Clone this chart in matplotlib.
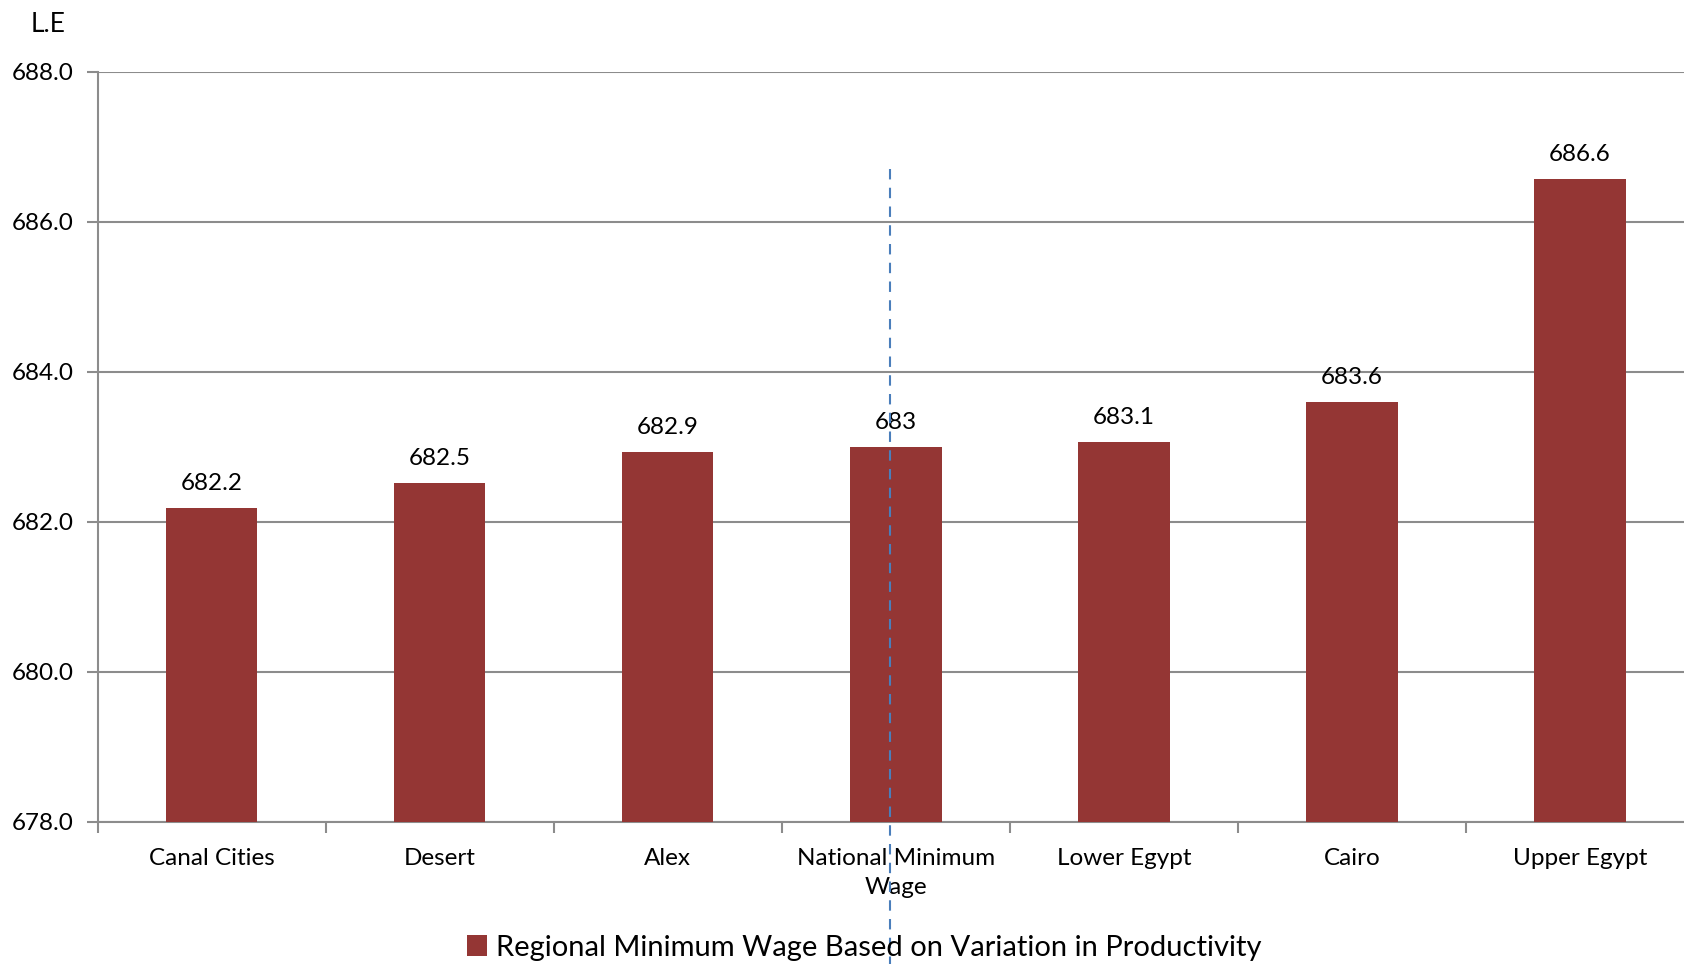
import matplotlib.pyplot as plt
from matplotlib.patches import Patch

categories = ["Canal Cities", "Desert", "Alex", "National Minimum\nWage",
              "Lower Egypt", "Cairo", "Upper Egypt"]
values = [682.18, 682.52, 682.93, 683.0, 683.07, 683.6, 686.57]
value_labels = ["682.2", "682.5", "682.9", "683", "683.1", "683.6", "686.6"]
y_ticks = [678.0, 680.0, 682.0, 684.0, 686.0, 688.0]
series_name = "Regional Minimum Wage Based on Variation in Productivity"

bar_color = "#943634"
grid_color = "#8c8c8c"

plt.rcParams['font.family'] = ['Lato', 'DejaVu Sans']

fig = plt.figure(figsize=(16.84, 9.66), dpi=100)
ax = fig.add_axes([0.058, 0.1495, 0.948, 0.776])

x = list(range(len(categories)))
ax.bar(x, [v - y_ticks[0] for v in values], bottom=y_ticks[0], width=0.4,
       color=bar_color, zorder=3)

for xi, v, lab in zip(x, values, value_labels):
    ax.annotate(lab, (xi, v), xytext=(0, 10), textcoords="offset points",
                ha="center", va="bottom", fontsize=17.5, zorder=5)

ax.set_ylim(y_ticks[0], y_ticks[-1])
ax.set_xlim(-0.5, len(categories) - 0.5)
ax.set_yticks(y_ticks)
ax.set_yticklabels([f"{t:.1f}" for t in y_ticks], fontsize=17.5)
ax.yaxis.grid(True, color=grid_color, linewidth=1.5, zorder=0)
ax.tick_params(axis="y", length=8, width=1.5, color=grid_color, pad=9)

ax.set_xticks(x)
ax.set_xticklabels(categories, fontsize=17.5, linespacing=1.45)
ax.tick_params(axis="x", which="major", length=0, pad=19)
ax.set_xticks([i - 0.5 for i in range(len(categories) + 1)], minor=True)
ax.tick_params(axis="x", which="minor", length=8, width=1.5, color=grid_color)

for s in ["top", "right"]:
    ax.spines[s].set_visible(False)
for s in ["left", "bottom"]:
    ax.spines[s].set_color(grid_color)
    ax.spines[s].set_linewidth(1.5)

# dashed marker line through the national minimum wage bar
ax.plot([2.976, 2.976], [686.7, 676.1], linestyle=(0, (5, 4)), color="#4a7ebb",
        linewidth=1.5, clip_on=False, zorder=6)

fig.text(0.0285, 0.975, "L.E", fontsize=19, ha="center", va="center")

handles = [Patch(facecolor=bar_color, edgecolor="none")]
fig.legend(handles, [series_name], loc="center", bbox_to_anchor=(0.513, 0.019),
           frameon=False, fontsize=21, handlelength=0.7, handleheight=0.7,
           handletextpad=0.3)

fig.savefig("out.png", dpi=100)
